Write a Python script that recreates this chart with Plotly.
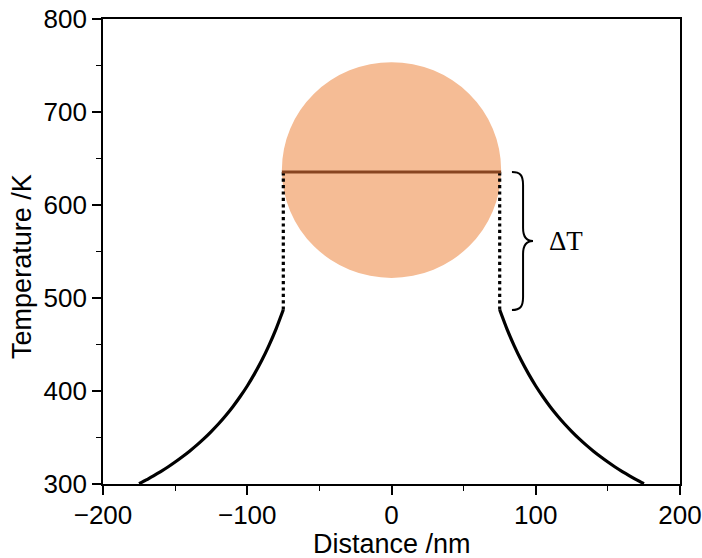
import plotly.graph_objects as go

# distance (nm) from particle centre and temperature (K) in the surrounding medium
r_out = [75, 80, 85, 90, 95, 100, 105, 110, 115, 120, 125, 130, 135, 140, 145, 150,
         155, 160, 165, 170, 175]
t_out = [487.3, 466.8, 448.8, 432.7, 418.4, 405.4, 393.8, 383.1, 373.4, 364.5, 356.4,
         348.8, 341.8, 335.3, 329.3, 323.6, 318.3, 313.4, 308.8, 304.4, 300.3]

particle_radius = 76
particle_temp = 635.5
particle_center_T = 637.6
particle_T_radius = 116
t_edge = 487.3

x_title = "Distance /nm"
y_title = "Temperature /K"

FONT = "Liberation Sans, Arial, sans-serif"

fig = go.Figure()

# particle circle
fig.add_shape(type="circle", xref="x", yref="y",
              x0=-particle_radius, x1=particle_radius,
              y0=particle_center_T - particle_T_radius, y1=particle_center_T + particle_T_radius,
              fillcolor="#F5BC95", line=dict(width=0), layer="below")

# left and right decay curves
fig.add_trace(go.Scatter(x=[-v for v in r_out], y=t_out, mode="lines",
                         line=dict(color="black", width=3.2, shape="spline", smoothing=0.6),
                         showlegend=False))
fig.add_trace(go.Scatter(x=r_out, y=t_out, mode="lines",
                         line=dict(color="black", width=3.2, shape="spline", smoothing=0.6),
                         showlegend=False))

# dotted jumps
for xs in (-r_out[0], r_out[0]):
    fig.add_trace(go.Scatter(x=[xs, xs], y=[t_edge, particle_temp], mode="lines",
                             line=dict(color="black", width=3.2, dash="dot"), showlegend=False))

# particle temperature line
fig.add_trace(go.Scatter(x=[-particle_radius, particle_radius], y=[particle_temp, particle_temp],
                         mode="lines", line=dict(color="#874521", width=3.2), showlegend=False))

# curly brace (data coordinates)
bx = dict(end=83.5, c1=89.1, v=91.2, c2=93.2, tip=98.1)
by = dict(top=635.5, t1=632.3, t2=621.5, m1=575.3, m2=566.7, mid=561.3,
          m3=555.9, m4=547.3, b2=501.1, b1=490.3, bot=487.1)
path = (f"M {bx['end']},{by['top']} C {bx['c1']},{by['top']} {bx['v']},{by['t1']} {bx['v']},{by['t2']} "
        f"L {bx['v']},{by['m1']} C {bx['v']},{by['m2']} {bx['c2']},{by['mid']} {bx['tip']},{by['mid']} "
        f"C {bx['c2']},{by['mid']} {bx['v']},{by['m3']} {bx['v']},{by['m4']} "
        f"L {bx['v']},{by['b2']} C {bx['v']},{by['b1']} {bx['c1']},{by['bot']} {bx['end']},{by['bot']}")
fig.add_shape(type="path", path=path, xref="x", yref="y",
              line=dict(color="black", width=2))

fig.add_annotation(x=107.5, y=by["mid"], text="ΔT", showarrow=False, xanchor="left",
                   font=dict(family="Liberation Serif, DejaVu Serif", size=27, color="black"))

# axis titles as annotations (paper coordinates)
fig.add_annotation(xref="paper", yref="paper", x=0.5, y=-0.129, text=x_title, showarrow=False,
                   xanchor="center", yanchor="middle",
                   font=dict(family=FONT, size=27, color="black"))
fig.add_annotation(xref="paper", yref="paper", x=-0.1404, y=0.469, text=y_title, showarrow=False,
                   textangle=-90, xanchor="center", yanchor="middle",
                   font=dict(family=FONT, size=27, color="black"))

axis_common = dict(showgrid=False, zeroline=False, showline=True, linecolor="black", linewidth=1.6,
                   mirror=True, ticks="outside", ticklen=9, tickwidth=1.6, tickcolor="black",
                   automargin=False, ticklabeloverflow="allow",
                   tickfont=dict(family=FONT, size=26, color="black"),
                   minor=dict(ticks="outside", ticklen=5, tickwidth=1.3, tickcolor="black"))

fig.update_xaxes(range=[-200, 200], dtick=100, minor_dtick=50, ticklabelstandoff=-2,
                 **axis_common)
fig.update_yaxes(range=[300, 800], dtick=100, minor_dtick=50, **axis_common)

fig.update_layout(width=702, height=558, margin=dict(l=103, r=22, t=19, b=74),
                  plot_bgcolor="white", paper_bgcolor="white")

fig.write_html("out.html")
